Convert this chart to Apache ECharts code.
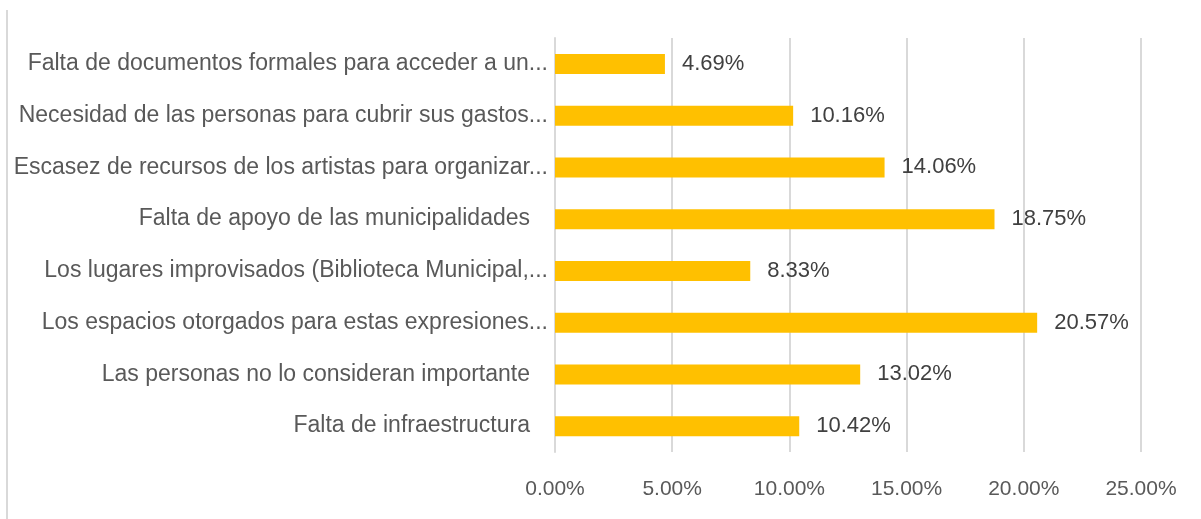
<!DOCTYPE html>
<html lang="es">
<head>
    <meta charset="UTF-8">
    <title></title>
    <script src="https://cdn.jsdelivr.net/npm/echarts@6/dist/echarts.min.js"></script>
</head>
<style>
    html, body { margin: 0; padding: 0; background: #fff; }
    #chart { width: 1201px; height: 519px; }
</style>
<body>
<div id="chart"></div>
<script>
    // categories, top to bottom as in the picture
    var categories = [
        'Falta de documentos formales para acceder a un...',
        'Necesidad de las personas para cubrir sus gastos...',
        'Escasez de recursos de los artistas para organizar...',
        'Falta de apoyo de las municipalidades',
        'Los lugares improvisados (Biblioteca Municipal,...',
        'Los espacios otorgados para estas expresiones...',
        'Las personas no lo consideran importante',
        'Falta de infraestructura'
    ];
    var values = [4.69, 10.16, 14.06, 18.75, 8.33, 20.57, 13.02, 10.42];
    var xTicks = [0, 5, 10, 15, 20, 25];

    var font = '"Liberation Sans", Arial, sans-serif';

    var chart = echarts.init(document.getElementById('chart'));
    chart.setOption({
        animation: false,
        grid: { left: 555, right: 60, top: 38, bottom: 67 },
        graphic: [{
            type: 'line',
            shape: { x1: 7, y1: 10, x2: 7, y2: 519 },
            style: { stroke: '#d9d9d9', lineWidth: 2 }
        }],
        xAxis: {
            type: 'value',
            min: xTicks[0],
            max: xTicks[xTicks.length - 1],
            interval: 5,
            axisLine: { show: false },
            axisTick: { show: false },
            splitLine: { lineStyle: { color: '#d9d9d9', width: 2 } },
            axisLabel: {
                margin: 27,
                color: '#595959',
                fontSize: 21,
                fontFamily: font,
                formatter: function (v) { return v.toFixed(2) + '%'; }
            }
        },
        yAxis: {
            type: 'category',
            inverse: true,
            data: categories,
            axisLine: { show: true, lineStyle: { color: '#d9d9d9', width: 2 } },
            axisTick: { show: false },
            axisLabel: {
                margin: 7,
                color: '#595959',
                fontSize: 23,
                fontFamily: font,
                formatter: function (v) {
                    return v.slice(-3) === '...' ? '{a|' + v + '}' : '{b|' + v + '}';
                },
                rich: {
                    a: { color: '#595959', fontSize: 23, fontFamily: font },
                    b: { color: '#595959', fontSize: 23, fontFamily: font, padding: [0, 18, 0, 0] }
                }
            }
        },
        series: [{
            type: 'bar',
            data: values,
            barWidth: 20,
            itemStyle: { color: '#ffc000' },
            label: {
                show: true,
                position: 'right',
                distance: 17,
                color: '#404040',
                fontSize: 22,
                fontFamily: font,
                formatter: function (p) { return p.value.toFixed(2) + '%'; }
            }
        }]
    });
</script>
</body>
</html>
